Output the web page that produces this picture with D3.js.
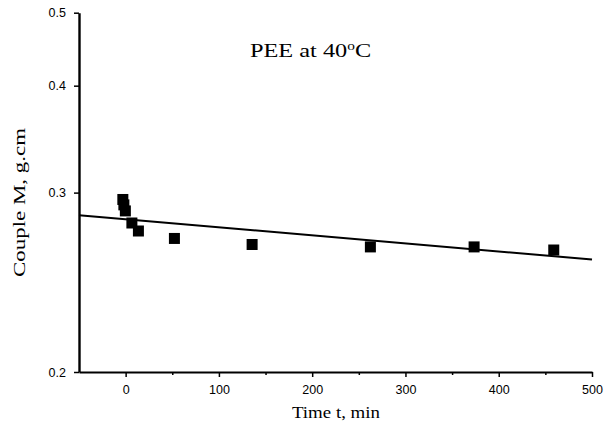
<!DOCTYPE html>
<html>
<head>
<meta charset="utf-8">
<script src="https://cdn.jsdelivr.net/npm/d3@7"></script>
<style>
  body { margin: 0; background: #fff; }
  svg { display: block; }
</style>
</head>
<body>
<svg id="chart" width="611" height="426"></svg>
<script>
// DATA
var timeMin = [-3, -1.9, -0.3, 6.7, 13.7, 52.3, 135.6, 262.4, 373.6, 459.0];
var coupleM = [0.2949, 0.291, 0.2867, 0.2784, 0.2731, 0.2683, 0.2645, 0.263, 0.263, 0.2611];
var fitT = [-50, 500];
var fitM = [0.2837, 0.2554];
var yTicks = [0.2, 0.3, 0.4, 0.5];
var xMajor = [0, 100, 200, 300, 400, 500];
var xMinor = [50, 150, 250, 350, 450];

var svg = d3.select('#chart');
var serif = '"Liberation Serif", "Times New Roman", serif';
var sans = '"Liberation Sans", Arial, sans-serif';

// SCALES
var x = d3.scaleLinear()
            .domain([-50, 500])
            .range([79, 592]);
// y axis is not linear, spacing follows M^-0.5
var y = d3.scalePow()
            .exponent(-0.5)
            .domain([0.2, 0.5])
            .range([372, 12.7]);

// AXES
var xAxisG = svg.append('g')
            .attr('transform', 'translate(0,372)')
            .call(d3.axisBottom(x).tickValues(xMinor).tickSize(3).tickFormat(''));
xAxisG.select('.domain').remove();
xAxisG.selectAll('line').attr('stroke-width', 1.5);

var xAxis = svg.append('g')
            .attr('transform', 'translate(0,372)')
            .call(d3.axisBottom(x).tickValues(xMajor).tickSize(5).tickSizeOuter(0).tickPadding(8));
xAxis.select('.domain').attr('stroke-width', 2);
xAxis.selectAll('line').attr('stroke-width', 1.5);
xAxis.selectAll('text')
            .style('font-family', sans)
            .style('font-size', '12.5px')
            .attr('fill', '#000');

var yAxis = svg.append('g')
            .attr('transform', 'translate(79,0)')
            .call(d3.axisLeft(y).tickValues(yTicks).tickFormat(d3.format('.1f')).tickSize(5).tickSizeOuter(0).tickPadding(8));
yAxis.select('.domain').attr('stroke-width', 2.4);
yAxis.selectAll('line').attr('stroke-width', 1.5);
yAxis.selectAll('text')
            .style('font-family', sans)
            .style('font-size', '12.5px')
            .attr('fill', '#000');

// AXIS TITLES (reference text is stretched, so fix the length)
svg.append('text')
            .attr('x', 292)
            .attr('y', 418)
            .attr('textLength', 88)
            .attr('lengthAdjust', 'spacingAndGlyphs')
            .style('font-family', serif)
            .style('font-size', '16px')
            .text('Time t, min');

svg.append('text')
            .attr('transform', 'translate(25,277) rotate(-90)')
            .attr('textLength', 149)
            .attr('lengthAdjust', 'spacingAndGlyphs')
            .style('font-family', serif)
            .style('font-size', '17px')
            .text('Couple M, g.cm');

// CHART TITLE
var title = svg.append('text')
            .attr('transform', 'translate(250,57) scale(1.28,1)')
            .style('font-family', serif)
            .style('font-size', '19px');
title.append('tspan').text('PEE at 40');
title.append('tspan').attr('dy', -7).style('font-size', '12px').text('o');
title.append('tspan').attr('dy', 7).text('C');

// FIT LINE
var fitData = fitT.map(function(t, i) { return { t: t, m: fitM[i] }; });
var lineGen = d3.line()
            .x(function(d) { return x(d.t); })
            .y(function(d) { return y(d.m); });
svg.append('path')
            .attr('d', lineGen(fitData))
            .style('fill', 'none')
            .style('stroke', '#000')
            .style('stroke-width', '2px');

// POINTS
var pts = timeMin.map(function(t, i) { return { t: t, m: coupleM[i] }; });
var sz = 11;
svg.selectAll('rect.pt')
            .data(pts)
            .enter()
            .append('rect')
            .attr('class', 'pt')
            .attr('x', function(d) { return x(d.t) - sz / 2; })
            .attr('y', function(d) { return y(d.m) - sz / 2; })
            .attr('width', sz)
            .attr('height', sz)
            .attr('fill', '#000');
</script>
</body>
</html>
